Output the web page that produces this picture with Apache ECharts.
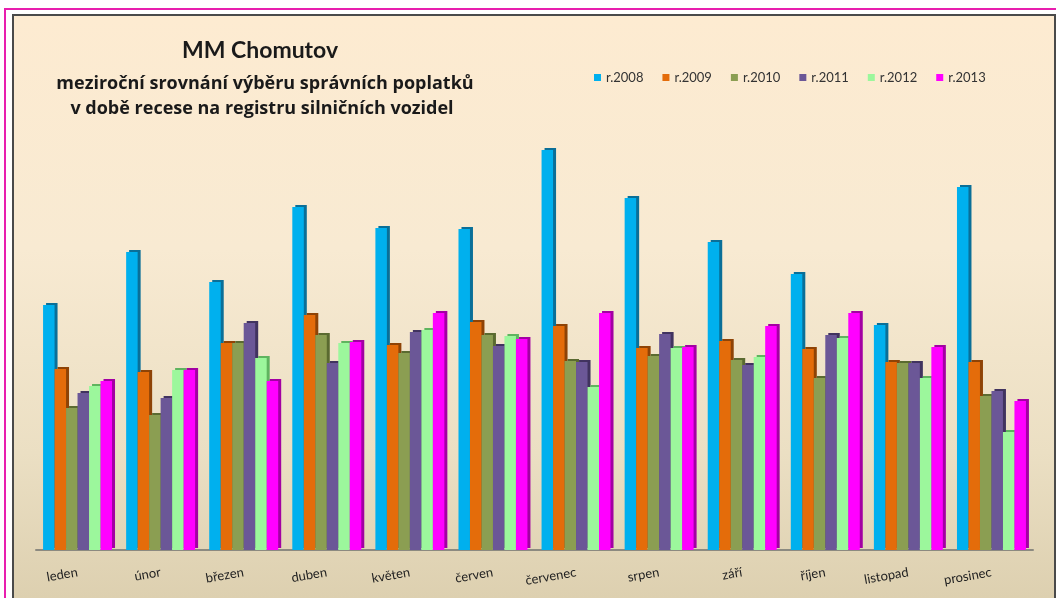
<!DOCTYPE html>
<html>
<head>
<meta charset="utf-8">
<script src="https://cdn.jsdelivr.net/npm/echarts@6/dist/echarts.min.js"></script>
<style>
  html, body { margin: 0; padding: 0; background: #fff; overflow: hidden; }
  .pink { position: absolute; left: 4px; top: 8px; width: 1200px; height: 800px; border: 2px solid #e81eae; }
  .frame { position: absolute; left: 12px; top: 14px; width: 1040px; height: 700px; border: 2px solid #4a4a4a; }
  #chart { position: absolute; left: 14px; top: 16px; width: 1040px; height: 582px;
    background: linear-gradient(to bottom, #fdebd1 0%, #f8ead2 40%, #ebdfc3 75%, #ddd0b0 100%); }
</style>
</head>
<body>
<div class="pink"></div>
<div class="frame"></div>
<div id="chart"></div>
<script>
// měsíce
const months = ['leden', 'únor', 'březen', 'duben', 'květen', 'červen', 'červenec', 'srpen', 'září', 'říjen', 'listopad', 'prosinec']
const years = ['r.2008', 'r.2009', 'r.2010', 'r.2011', 'r.2012', 'r.2013']
// hodnoty (bez osy - relativní výška)
const y2008 = [245, 298, 268, 343, 322, 321, 400, 352, 308, 276, 225, 363]
const y2009 = [181, 178, 207, 235, 205, 228, 224, 202, 209, 201, 188, 188]
const y2010 = [142, 135, 207, 215, 197, 215, 189, 194, 190, 172, 187, 154]
const y2011 = [157, 152, 227, 187, 218, 204, 188, 216, 185, 215, 187, 159]
const y2012 = [164, 180, 192, 207, 220, 214, 163, 202, 193, 212, 172, 118]
const y2013 = [169, 180, 169, 208, 237, 211, 237, 203, 224, 237, 203, 149]
const seriesData = [y2008, y2009, y2010, y2011, y2012, y2013]
const colors = ['#00b0ee', '#e46c0a', '#8b9e52', '#6b5797', '#9cf79c', '#ff00ff']
const sideColors = ['#0a6f98', '#8e4306', '#5a6a30', '#41335f', '#5fb45f', '#a300a3']

const chart = echarts.init(document.getElementById('chart'))
const font = 'Lato, "Open Sans", sans-serif'
const subFont = '"Open Sans", Lato, sans-serif'

const option = {
  animation: false,
  textStyle: { fontFamily: font },
  graphic: [
    { type: 'text', x: 246, y: 35, style: { text: 'MM Chomutov', align: 'center', verticalAlign: 'middle', font: 'bold 23px ' + font, fill: '#1a1a1a' } },
    { type: 'text', x: 251, y: 68, style: { text: 'meziroční srovnání výběru správních poplatků', align: 'center', verticalAlign: 'middle', font: 'bold 18px ' + subFont, fill: '#1a1a1a' } },
    { type: 'text', x: 248, y: 93, style: { text: 'v době recese na registru silničních vozidel', align: 'center', verticalAlign: 'middle', font: 'bold 18px ' + subFont, fill: '#1a1a1a' } }
  ],
  legend: {
    data: years,
    left: 575,
    top: 50,
    itemWidth: 7,
    itemHeight: 7,
    itemGap: 19,
    icon: 'rect',
    textStyle: { fontSize: 13, color: '#333', fontFamily: font }
  },
  grid: { left: 22, right: 21, top: 94, bottom: 48 },
  xAxis: {
    type: 'category',
    data: months,
    axisLine: { lineStyle: { color: '#8c8a80', width: 2 } },
    axisTick: { show: false },
    axisLabel: { rotate: 10, margin: 22, fontSize: 13, color: '#222', fontFamily: font, interval: 0 }
  },
  yAxis: {
    type: 'value',
    min: 0,
    max: 440,
    show: false,
    splitLine: { show: false }
  },
  series: seriesData.map((d, i) => ({
    name: years[i],
    type: 'bar',
    data: d,
    barGap: '0%',
    barCategoryGap: '17%',
    itemStyle: {
      color: colors[i],
      shadowColor: sideColors[i],
      shadowOffsetX: 3,
      shadowOffsetY: -2,
      shadowBlur: 0
    }
  }))
}
chart.setOption(option)
</script>
</body>
</html>
